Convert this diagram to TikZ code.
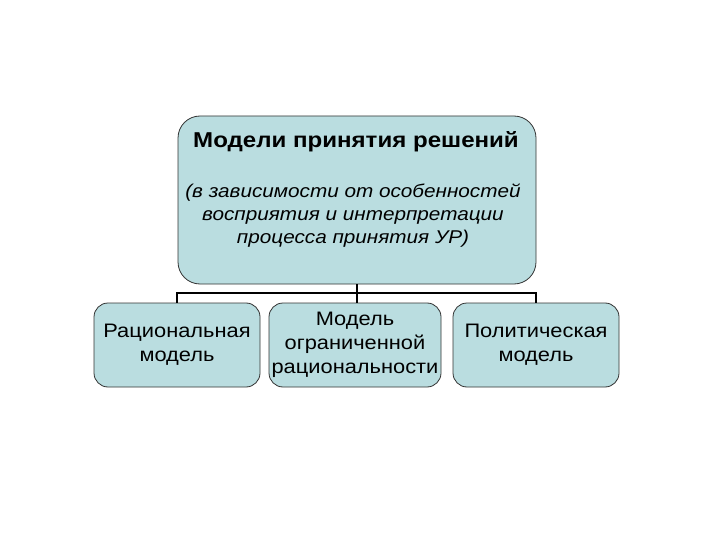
\documentclass[tikz,border=0pt]{standalone}
\usepackage{fontspec}
\setmainfont[FakeStretch=1.12]{Liberation Sans}
\begin{document}
\begin{tikzpicture}[x=1pt,y=-1pt,
  box/.style={draw=black!80, line width=0.8pt, fill=boxfill, rounded corners=14pt, inner sep=0pt, align=center},
  small/.style={box, minimum height=84pt, font=\fontsize{19.5}{24}\selectfont},
  conn/.style={draw=black, line width=1.4pt}]
\definecolor{boxfill}{RGB}{186,221,224}
\useasboundingbox (0,0) rectangle (720,540);
\node[box, rounded corners=22pt, minimum width=358pt, minimum height=168pt] (main) at (357,200) {};
\node[font=\fontsize{21.5}{26}\selectfont\bfseries] (title) at (356,142) {Модели принятия решений};
\node[font=\fontsize{18.5}{23}\selectfont\itshape, align=center] (sub) at (353,216) {(в зависимости от особенностей\\восприятия и интерпретации\\процесса принятия УР)};
\node[small, minimum width=166pt] (l) at (177,345) {Рациональная\\модель};
\node[small, minimum width=172pt] (m) at (355,345) {Модель\\ограниченной\\рациональности};
\node[small, minimum width=166pt] (r) at (536,345) {Политическая\\модель};
\coordinate (bus) at (357,293);
\draw[conn] (main.south) -- (bus);
\draw[conn] (bus) -| (l.north);
\draw[conn] (bus) -| (r.north);
\draw[conn] (bus) -- (main.south |- m.north);
\end{tikzpicture}
\end{document}
